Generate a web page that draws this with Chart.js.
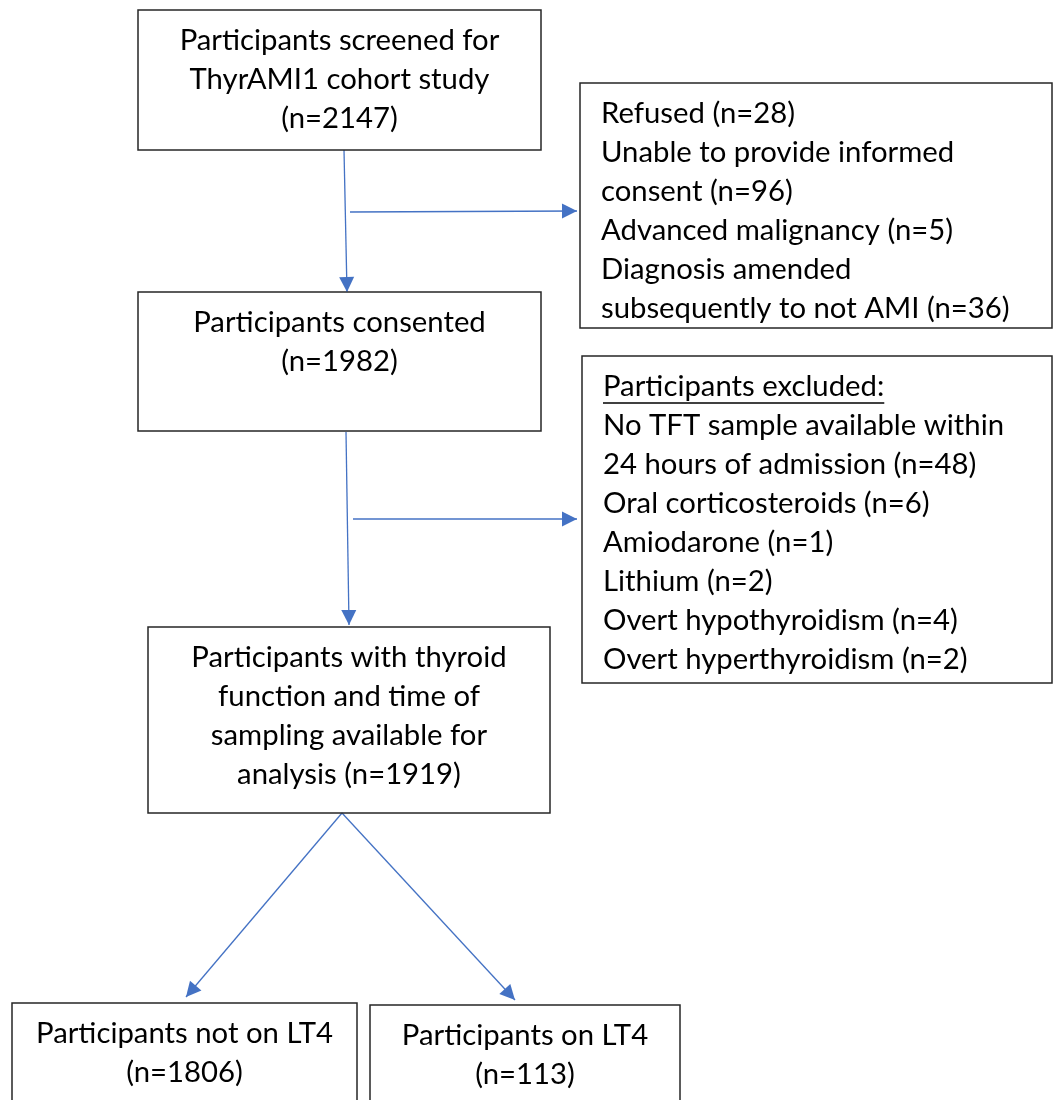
<!DOCTYPE html>
<html>
<head>
<meta charset="utf-8">
<script src="https://cdn.jsdelivr.net/npm/chart.js@4"></script>
<style>
  body { margin: 0; background: #fff; }
  #wrap { width: 1058px; height: 1100px; }
</style>
</head>
<body>
<div id="wrap"><canvas id="flow" width="1058" height="1100"></canvas></div>
<script>
// ThyrAMI1 participant flow

// main stages (line breaks as in the figure) and their counts
const stageLabels = [
    'Participants screened for\nThyrAMI1 cohort study\n',
    'Participants consented\n',
    'Participants with thyroid\nfunction and time of\nsampling available for\nanalysis ',
    'Participants not on LT4\n',
    'Participants on LT4\n'
];
const stageCounts = [2147, 1982, 1919, 1806, 113];

// first exclusion step
const exclusion1Labels = [
    'Refused ',
    'Unable to provide informed\nconsent ',
    'Advanced malignancy ',
    'Diagnosis amended\nsubsequently to not AMI '
];
const exclusion1Counts = [28, 96, 5, 36];

// second exclusion step
const exclusion2Title = 'Participants excluded:';
const exclusion2Labels = [
    'No TFT sample available within\n24 hours of admission ',
    'Oral corticosteroids ',
    'Amiodarone ',
    'Lithium ',
    'Overt hypothyroidism ',
    'Overt hyperthyroidism '
];
const exclusion2Counts = [48, 6, 1, 2, 4, 2];

// layout, in scale units (x: 0..1058, y: 0..1100 from the top)
const boxes = [
    { x0: 138, y0: 10,   x1: 541,  y1: 150,  align: 'center' },
    { x0: 138, y0: 292,  x1: 541,  y1: 431,  align: 'center' },
    { x0: 148, y0: 627,  x1: 550,  y1: 813,  align: 'center' },
    { x0: 12,  y0: 1003, x1: 357,  y1: 1120, align: 'center' },
    { x0: 370, y0: 1005, x1: 680,  y1: 1120, align: 'center' },
    { x0: 580, y0: 83,   x1: 1052, y1: 328,  align: 'left' },
    { x0: 582, y0: 356,  x1: 1052, y1: 683,  align: 'left' }
];
const connectors = [
    [{ x: 344, y: 150 }, { x: 347, y: 292 }],
    [{ x: 350, y: 212 }, { x: 577, y: 211 }],
    [{ x: 346, y: 432 }, { x: 349, y: 625 }],
    [{ x: 353, y: 519 }, { x: 577, y: 519 }],
    [{ x: 342, y: 813 }, { x: 186, y: 997 }],
    [{ x: 342, y: 813 }, { x: 515, y: 1000 }]
];

const arrowColor = '#4472C4';
const fontSize = 29.3;
const fontFamily = 'Lato, "Open Sans", sans-serif';
const lineGap = 39;
const firstLine = 31;
const leftPad = 21;

const withN = (label, n) => label + '(n=' + n + ')';

// text for each box, same order as boxes
const boxTexts = [
    withN(stageLabels[0], stageCounts[0]).split('\n'),
    withN(stageLabels[1], stageCounts[1]).split('\n'),
    withN(stageLabels[2], stageCounts[2]).split('\n'),
    withN(stageLabels[3], stageCounts[3]).split('\n'),
    withN(stageLabels[4], stageCounts[4]).split('\n'),
    exclusion1Labels.map((l, i) => withN(l, exclusion1Counts[i])).join('\n').split('\n'),
    [exclusion2Title].concat(exclusion2Labels.map((l, i) => withN(l, exclusion2Counts[i])).join('\n').split('\n'))
];

const flowPlugin = {
    id: 'flow',
    beforeDraw(chart) {
        const c = chart.ctx;
        c.save();
        c.fillStyle = '#fff';
        c.fillRect(0, 0, chart.width, chart.height);
        c.restore();
    },
    afterDatasetsDraw(chart) {
        const c = chart.ctx;
        const sx = chart.scales.x, sy = chart.scales.y;
        c.save();

        // boxes + text
        boxes.forEach((b, i) => {
            const x0 = sx.getPixelForValue(b.x0), x1 = sx.getPixelForValue(b.x1);
            const y0 = sy.getPixelForValue(b.y0), y1 = sy.getPixelForValue(b.y1);
            c.strokeStyle = '#262626';
            c.lineWidth = 1.5;
            c.strokeRect(x0, y0, x1 - x0, y1 - y0);

            c.fillStyle = '#000';
            c.font = fontSize + 'px ' + fontFamily;
            c.textBaseline = 'middle';
            c.textAlign = b.align;
            const tx = b.align === 'center' ? (x0 + x1) / 2 : x0 + leftPad;
            boxTexts[i].forEach((line, k) => {
                const ty = y0 + firstLine + k * lineGap;
                c.fillText(line, tx, ty);
                // underline the heading of the second exclusion box
                if (i === 6 && k === 0) {
                    const w = c.measureText(line).width;
                    c.beginPath();
                    c.lineWidth = 1.6;
                    c.strokeStyle = '#000';
                    c.moveTo(tx, ty + 16);
                    c.lineTo(tx + w, ty + 16);
                    c.stroke();
                }
            });
        });

        // arrow heads
        c.fillStyle = arrowColor;
        connectors.forEach(seg => {
            const ax = sx.getPixelForValue(seg[0].x), ay = sy.getPixelForValue(seg[0].y);
            const bx = sx.getPixelForValue(seg[1].x), by = sy.getPixelForValue(seg[1].y);
            const ang = Math.atan2(by - ay, bx - ax);
            const len = 15, half = 7.5;
            c.save();
            c.translate(bx, by);
            c.rotate(ang);
            c.beginPath();
            c.moveTo(0, 0);
            c.lineTo(-len, -half);
            c.lineTo(-len, half);
            c.closePath();
            c.fill();
            c.restore();
        });
        c.restore();
    }
};

new Chart(document.getElementById('flow'), {
    type: 'scatter',
    data: {
        datasets: connectors.map(seg => ({
            data: seg,
            showLine: true,
            borderColor: arrowColor,
            borderWidth: 1.3,
            pointRadius: 0,
            fill: false
        }))
    },
    options: {
        responsive: false,
        animation: false,
        events: [],
        layout: { padding: 0 },
        plugins: { legend: { display: false }, tooltip: { enabled: false } },
        scales: {
            x: { type: 'linear', min: 0, max: 1058, display: false },
            y: { type: 'linear', min: 0, max: 1100, reverse: true, display: false }
        }
    },
    plugins: [flowPlugin]
});
</script>
</body>
</html>
